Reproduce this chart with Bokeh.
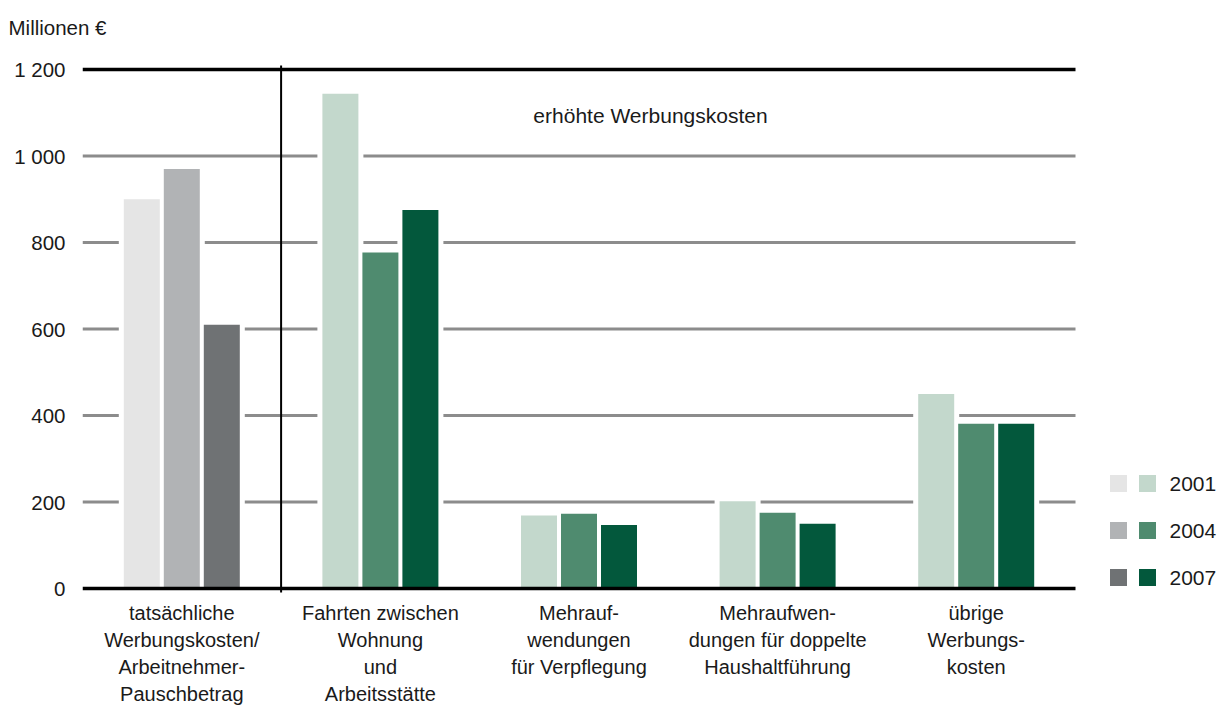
from bokeh.plotting import figure
from bokeh.models import Range1d, FixedTicker
from bokeh.core.properties import value
from bokeh.embed import file_html
from bokeh.resources import INLINE

# ---- data ----
categories = [
    "tatsächliche\nWerbungskosten/\nArbeitnehmer-\nPauschbetrag",
    "Fahrten zwischen\nWohnung\nund\nArbeitsstätte",
    "Mehrauf-\nwendungen\nfür Verpflegung",
    "Mehraufwen-\ndungen für doppelte\nHaushaltführung",
    "übrige\nWerbungs-\nkosten",
]
years = ["2001", "2004", "2007"]
v2001 = [900, 1144, 169, 202, 450]
v2004 = [970, 777, 173, 175, 381]
v2007 = [610, 875, 147, 150, 381]
y_ticks = [0, 200, 400, 600, 800, 1000, 1200]
y_tick_labels = ["0", "200", "400", "600", "800", "1 000", "1 200"]
y_unit = "Millionen €"
group_note = "erhöhte Werbungskosten"

gray = ["#e5e5e5", "#b1b3b5", "#6f7274"]
green = ["#c3d8cc", "#4f8b6f", "#03583c"]

FONT = "Liberation Sans"
TXT = "#1a1a1a"

# ---- layout scales (pixels per data unit) ----
PX_X = 198.6
PX_Y = 519 / 1200
n = len(categories)
W, H = 1225, 708
LEFT, TOP = 82, 52
Y0 = 588  # pixel row of value 0

p = figure(width=W, height=H, output_backend="svg", toolbar_location=None,
           x_range=Range1d(0, (W - LEFT) / PX_X),
           y_range=Range1d((Y0 - H) / PX_Y, (Y0 - TOP) / PX_Y),
           x_axis_location=None,
           min_border_left=LEFT, min_border_top=TOP, min_border_right=0, min_border_bottom=0)
p.outline_line_color = None
p.grid.visible = False

p.title.text = y_unit
p.title.align = "left"
p.title.offset = -74
p.title.standoff = 27
p.title.text_font = FONT
p.title.text_font_size = "20.5px"
p.title.text_font_style = "normal"
p.title.text_color = TXT

ax = p.yaxis[0]
ax.ticker = FixedTicker(ticks=y_ticks)
ax.major_label_overrides = {t: l for t, l in zip(y_ticks, y_tick_labels)}
ax.axis_line_color = None
ax.major_tick_line_color = None
ax.minor_tick_line_color = None
ax.major_label_standoff = 11
ax.major_label_text_font = FONT
ax.major_label_text_font_size = "20.5px"
ax.major_label_text_color = TXT

# gridlines (gray) between 0 and top
inner = y_ticks[1:-1]
p.segment(x0=[0] * len(inner), x1=[n] * len(inner), y0=inner, y1=inner,
          line_color="#8c8c8c", line_width=3)

# bars
xs, tops, cols = [], [], []
for j, vals in enumerate([v2001, v2004, v2007]):
    for i, v in enumerate(vals):
        xs.append(i + 0.5 + (j - 1) * 40 / PX_X)
        tops.append(v)
        cols.append((gray if i == 0 else green)[j])

# white halo behind bars (breaks gridlines)
p.vbar(x=xs, top=[t + 5 / PX_Y for t in tops], bottom=0, width=46 / PX_X,
       fill_color="white", line_color=None)
p.vbar(x=xs, top=tops, bottom=0, width=36 / PX_X, fill_color=cols, line_color=None)

# black lines at 0 and 1200
p.segment(x0=[0, 0], x1=[n, n], y0=[y_ticks[0], y_ticks[-1]], y1=[y_ticks[0], y_ticks[-1]],
          line_color="black", line_width=3.5)
# separator between first group and the rest
p.segment(x0=[1], x1=[1], y0=[y_ticks[0] - 4 / PX_Y], y1=[y_ticks[-1] + 4 / PX_Y],
          line_color="black", line_width=2)

# category labels
p.text(x=[i + 0.5 for i in range(n)], y=[-13 / PX_Y] * n, text=categories,
       text_align="center", text_baseline="top", text_font=value(FONT),
       text_font_size="20px", text_line_height=1.23, text_color=TXT)

# note
p.text(x=[(650 - LEFT) / PX_X], y=[(Y0 - 115) / PX_Y], text=[group_note],
       text_align="center", text_baseline="middle", text_font=value(FONT),
       text_font_size="21px", text_color=TXT)

# legend
leg_y = [(Y0 - 483) / PX_Y, (Y0 - 530) / PX_Y, (Y0 - 577) / PX_Y]
p.rect(x=[(1118 - LEFT) / PX_X] * 3, y=leg_y, width=17, height=17,
       width_units="screen", height_units="screen", fill_color=gray, line_color=None)
p.rect(x=[(1147 - LEFT) / PX_X] * 3, y=leg_y, width=17, height=17,
       width_units="screen", height_units="screen", fill_color=green, line_color=None)
p.text(x=[(1169 - LEFT) / PX_X] * 3, y=leg_y, text=years, text_align="left",
       text_baseline="middle", text_font=value(FONT), text_font_size="21px",
       text_color=TXT)

open("out.html", "w").write(file_html(p, INLINE))
